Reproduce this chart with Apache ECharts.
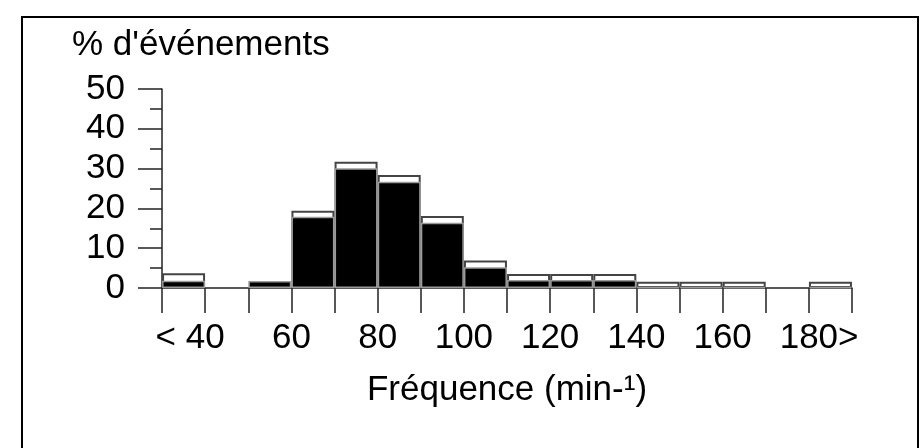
<!DOCTYPE html>
<html>
<head>
<meta charset="utf-8">
<script src="https://cdn.jsdelivr.net/npm/echarts@6/dist/echarts.min.js"></script>
<style>
  html, body { margin: 0; padding: 0; background: #fff; }
  #chart { width: 921px; height: 448px; }
</style>
</head>
<body>
<div id="chart"></div>
<script>
// Bin centres (frequency, min-1), bins 10 wide from 30 to 190
const binCenters = [35, 45, 55, 65, 75, 85, 95, 105, 115, 125, 135, 145, 155, 165, 175, 185];
// Black (lower) part of each bar, % of events
const blackPct = [1.8, '-', 1.75, 17.9, 30.1, 26.7, 16.4, 5.2, 2.0, 2.0, 2.0, 0.3, 0.3, 0.3, '-', 0.3];
// White (upper) part on top of the black part, % of events
const whitePct = [1.9, '-', '-', 1.5, 1.6, 1.7, 1.7, 1.7, 1.5, 1.5, 1.5, 1.3, 1.3, 1.3, '-', 1.3];
// X tick labels
const xTickValues = [40, 60, 80, 100, 120, 140, 160, 180];
const xTickLabels = ['< 40{h|< }', '60', '80', '100', '120', '140', '160', '{h|>}180>'];
const yTitle = "% d'événements";
const xTitle = 'Fréquence (min-¹)';

const FONT = "'Liberation Sans', Arial, Helvetica, sans-serif";
const FS = 35;
const chart = echarts.init(document.getElementById('chart'), null, { renderer: 'canvas' });

const num = v => (typeof v === 'number' ? v : 0);
const blackData = binCenters.map((x, i) => [x, blackPct[i]]);
// white segment drawn as full bar (black + white) behind the black bar
const totalData = binCenters.map((x, i) =>
  whitePct[i] === '-' ? [x, '-'] : [x, num(blackPct[i]) + num(whitePct[i])]);

chart.setOption({
  animation: false,
  backgroundColor: '#fff',
  title: {
    text: yTitle,
    left: 67,
    top: 23,
    textStyle: { fontFamily: FONT, fontSize: FS, fontWeight: 'normal', color: '#000' }
  },
  graphic: [{
    type: 'rect',
    shape: { x: 22, y: 17, width: 896, height: 460 },
    style: { fill: 'none', stroke: '#000', lineWidth: 2 },
    silent: true,
    z: -1
  }],
  grid: { left: 162, right: 69, top: 89, bottom: 160, containLabel: false },
  xAxis: {
    type: 'value',
    min: 30,
    max: 190,
    interval: 10,
    name: xTitle,
    nameLocation: 'middle',
    nameGap: 85,
    nameTextStyle: { fontFamily: FONT, fontSize: FS, color: '#000' },
    axisLine: { show: true, lineStyle: { color: '#222', width: 1.5 } },
    axisTick: { show: true, length: 25, lineStyle: { color: '#222', width: 1.5 } },
    splitLine: { show: false },
    axisLabel: {
      margin: 33,
      fontFamily: FONT,
      fontSize: FS,
      color: '#000',
      showMinLabel: true,
      showMaxLabel: true,
      hideOverlap: false,
      formatter: function (v) {
        const k = xTickValues.indexOf(v);
        return k >= 0 ? xTickLabels[k] : '';
      },
      rich: {
        h: { fontFamily: FONT, fontSize: FS, color: 'rgba(0,0,0,0)' }
      }
    }
  },
  yAxis: {
    type: 'value',
    min: 0,
    max: 50,
    interval: 10,
    axisLine: { show: true, lineStyle: { color: '#222', width: 1.5 } },
    axisTick: { show: true, length: 24, lineStyle: { color: '#222', width: 1.5 } },
    minorTick: { show: true, splitNumber: 2, length: 12, lineStyle: { color: '#222', width: 1.5 } },
    splitLine: { show: false },
    minorSplitLine: { show: false },
    axisLabel: {
      margin: 37,
      fontFamily: FONT,
      fontSize: FS,
      color: '#000'
    }
  },
  series: [
    {
      name: 'white',
      type: 'bar',
      barWidth: 43,
      barGap: '-100%',
      z: 2,
      data: totalData,
      itemStyle: { color: '#fff', borderColor: '#444', borderWidth: 2 }
    },
    {
      name: 'black',
      type: 'bar',
      barWidth: 43,
      barGap: '-100%',
      z: 3,
      data: blackData,
      itemStyle: { color: '#000', borderColor: '#9a9a9a', borderWidth: 1.5 }
    }
  ]
});
</script>
</body>
</html>
